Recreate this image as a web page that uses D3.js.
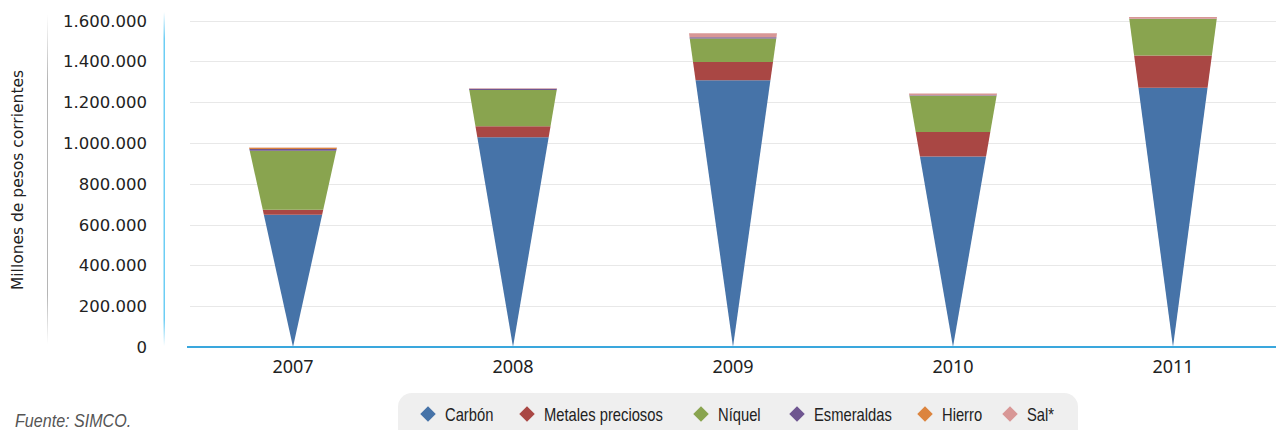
<!DOCTYPE html>
<html>
<head>
<meta charset="utf-8">
<script src="https://cdn.jsdelivr.net/npm/d3@7"></script>
<style>
  html, body { margin: 0; padding: 0; background: #fff; }
  svg { display: block; }
</style>
</head>
<body>
<svg id="chart" width="1276" height="430"></svg>
<script>
// ---- Data ----
const years = ["2007", "2008", "2009", "2010", "2011"];
const seriesNames = ["Carbón", "Metales preciosos", "Níquel", "Esmeraldas", "Hierro", "Sal*"];
const carbon     = [648000, 1028000, 1307000, 933000, 1270000];
const metales    = [24000,  54000,   90000,   120000, 159000];
const niquel     = [290000, 178000,  115000,  178000, 178000];
const esmeraldas = [8000,   5000,    6000,    3000,   2000];
const hierro     = [6000,   0,       0,       0,      0];
const sal        = [2000,   3000,    19000,   8000,   8000];
const yTicks = [0, 200000, 400000, 600000, 800000, 1000000, 1200000, 1400000, 1600000];
const colors = ["#4673a8", "#a94744", "#89a44f", "#6f5690", "#dc843e", "#d89796"];

// ---- Build table ----
const seriesValues = [carbon, metales, niquel, esmeraldas, hierro, sal];
const table = years.map((yr, i) => {
  const row = { year: yr };
  seriesNames.forEach((s, j) => row[s] = seriesValues[j][i]);
  return row;
});
const stacked = d3.stack().keys(seriesNames)(table);
const totals = table.map(r => d3.sum(seriesNames, s => r[s]));

const svg = d3.select("#chart");
const x = d3.scaleBand().domain(years).range([183, 1283]).padding(0);
const y = d3.scaleLinear().domain([0, 1600000]).range([347, 20.5]);
const topWidth = 88;

const loc = d3.formatLocale({ decimal: ",", thousands: ".", grouping: [3], currency: ["", ""] });
const fmt = loc.format(",");

const defs = svg.append("defs");
const gBlue = defs.append("linearGradient").attr("id", "gBlue").attr("x1", 0).attr("x2", 0).attr("y1", 0).attr("y2", 1);
gBlue.append("stop").attr("offset", "0%").attr("stop-color", "#5cc8f3").attr("stop-opacity", 0);
gBlue.append("stop").attr("offset", "8%").attr("stop-color", "#5cc8f3").attr("stop-opacity", 0.9);
gBlue.append("stop").attr("offset", "92%").attr("stop-color", "#5cc8f3").attr("stop-opacity", 0.9);
gBlue.append("stop").attr("offset", "100%").attr("stop-color", "#5cc8f3").attr("stop-opacity", 0);
const gGray = defs.append("linearGradient").attr("id", "gGray").attr("x1", 0).attr("x2", 0).attr("y1", 0).attr("y2", 1);
gGray.append("stop").attr("offset", "0%").attr("stop-color", "#b5b5b5").attr("stop-opacity", 0);
gGray.append("stop").attr("offset", "20%").attr("stop-color", "#b5b5b5").attr("stop-opacity", 1);
gGray.append("stop").attr("offset", "85%").attr("stop-color", "#b5b5b5").attr("stop-opacity", 1);
gGray.append("stop").attr("offset", "100%").attr("stop-color", "#b5b5b5").attr("stop-opacity", 0);

// decorative vertical lines
svg.append("rect").attr("x", 47).attr("y", 14).attr("width", 1).attr("height", 330).attr("fill", "url(#gGray)");
svg.append("rect").attr("x", 163.5).attr("y", 12).attr("width", 1.5).attr("height", 334).attr("fill", "url(#gBlue)");

// gridlines
svg.append("g").selectAll("line")
  .data(yTicks.filter(d => d > 0))
  .join("line")
  .attr("x1", 190).attr("x2", 1276)
  .attr("y1", d => Math.round(y(d)) + 0.5).attr("y2", d => Math.round(y(d)) + 0.5)
  .attr("stroke", "#e8e8e8").attr("stroke-width", 1);

// y tick labels
svg.append("g").selectAll("text")
  .data(yTicks)
  .join("text")
  .attr("x", 147).attr("y", d => y(d) + 6)
  .attr("text-anchor", "end")
  .attr("font-family", "DejaVu Sans, sans-serif")
  .attr("font-size", 16.5)
  .attr("fill", "#222")
  .text(d => fmt(d));

// y title
svg.append("text")
  .attr("transform", "translate(23,180) rotate(-90)")
  .attr("text-anchor", "middle")
  .attr("font-family", "DejaVu Sans, sans-serif")
  .attr("font-size", 15.5)
  .attr("fill", "#222")
  .text("Millones de pesos corrientes");

// cones
const cones = svg.append("g");
stacked.forEach((layer, j) => {
  cones.append("g").selectAll("polygon")
    .data(layer.map((d, i) => ({ d, i })))
    .join("polygon")
    .attr("fill", colors[j])
    .attr("points", ({ d, i }) => {
      const T = totals[i];
      const cx = x(years[i]) + x.bandwidth() / 2;
      const w0 = topWidth / 2 * d[0] / T, w1 = topWidth / 2 * d[1] / T;
      return [[cx - w0, y(d[0])], [cx + w0, y(d[0])], [cx + w1, y(d[1])], [cx - w1, y(d[1])]]
        .map(p => p.join(",")).join(" ");
    });
});

// x axis line
svg.append("line").attr("x1", 187).attr("x2", 1276).attr("y1", 347).attr("y2", 347)
  .attr("stroke", "#3aa7dd").attr("stroke-width", 2);

// x labels
svg.append("g").selectAll("text")
  .data(years)
  .join("text")
  .attr("x", d => x(d) + x.bandwidth() / 2)
  .attr("y", 372.5)
  .attr("text-anchor", "middle")
  .attr("font-family", "Noto Sans, sans-serif")
  .attr("font-size", 18)
  .attr("fill", "#222")
  .text(d => d);

// legend
svg.append("rect").attr("x", 398).attr("y", 393).attr("width", 680).attr("height", 60).attr("rx", 14)
  .attr("fill", "#efefef");
const legendX = [428, 527, 701, 797, 925, 1010];
const lg = svg.append("g").selectAll("g").data(seriesNames).join("g")
  .attr("transform", (d, i) => `translate(${legendX[i]},414)`);
lg.append("rect").attr("x", -5.5).attr("y", -5.5).attr("width", 11).attr("height", 11)
  .attr("transform", "rotate(45)").attr("fill", (d, i) => colors[i]);
lg.append("text")
  .attr("transform", "translate(17,6.5) scale(0.82,1)")
  .attr("font-family", "Liberation Sans, Arial, sans-serif")
  .attr("font-size", 18).attr("fill", "#222")
  .text(d => d);

// source
svg.append("text").attr("transform", "translate(15,427) scale(0.92,1)")
  .attr("font-family", "Liberation Sans, sans-serif").attr("font-style", "italic")
  .attr("font-size", 17.5).attr("fill", "#555")
  .text("Fuente: SIMCO.");
</script>
</body>
</html>
